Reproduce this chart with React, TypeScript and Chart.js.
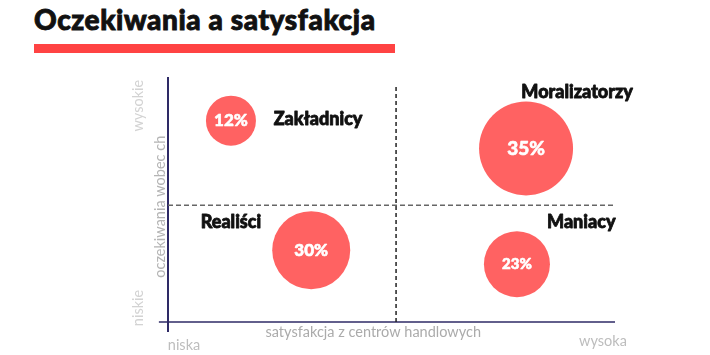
import React, { useEffect, useRef } from "react";
import { Chart, registerables } from "chart.js";

Chart.register(...registerables);

// ---- data ----
const segments = ["Zakładnicy", "Moralizatorzy", "Realiści", "Maniacy"];
const satisfaction = [1.38, 7.85, 3.14, 7.65]; // x (0..9.8)
const expectations = [8.63, 7.44, 3.08, 2.48]; // y (0..10.5)
const shares = [12, 35, 30, 23]; // %
const bubbleSize = [25, 47, 39, 33];
const segLabelX = [3.29, 8.97, 1.38, 9.06];
const segLabelY = [8.68, 9.87, 4.27, 4.27];
const xAxisTitle = "satysfakcja z centrów handlowych";
const yAxisTitle = "oczekiwania wobec ch";
const xTickLabels = ["niska", "wysoka"];
const yTickLabels = ["niskie", "wysokie"];
const titleText = "Oczekiwania a satysfakcja";

const X_MAX = 9.8;
const Y_MAX = 10.5;
const MID = 5;

const textPlugin = {
  id: "textPlugin",
  afterDatasetsDraw(chart: any) {
    const ctx = chart.ctx as CanvasRenderingContext2D;
    const xs = chart.scales.x;
    const ys = chart.scales.y;
    ctx.save();
    ctx.lineJoin = "round";
    // percentages inside bubbles
    const meta = chart.getDatasetMeta(0);
    const pctSizes = [17, 19, 17, 15];
    meta.data.forEach((el: any, i: number) => {
      ctx.fillStyle = "#ffffff";
      ctx.strokeStyle = "#ffffff";
      ctx.lineWidth = 0.6;
      ctx.font = `900 ${pctSizes[i]}px Lato`;
      ctx.textAlign = "center";
      ctx.textBaseline = "middle";
      ctx.fillText(shares[i] + "%", el.x, el.y);
      ctx.strokeText(shares[i] + "%", el.x, el.y);
    });
    // segment names
    ctx.fillStyle = "#111111";
    ctx.strokeStyle = "#111111";
    ctx.lineWidth = 0.8;
    ctx.font = "900 18px Lato";
    segments.forEach((s, i) => {
      ctx.textAlign = "center";
      ctx.textBaseline = "middle";
      const px = xs.getPixelForValue(segLabelX[i]);
      const py = ys.getPixelForValue(segLabelY[i]);
      ctx.fillText(s, px, py);
      ctx.strokeText(s, px, py);
    });
    // axis titles
    const left = xs.getPixelForValue(0);
    const bottom = ys.getPixelForValue(0);
    ctx.font = "14.5px Lato";
    ctx.fillStyle = "#ababab";
    ctx.textAlign = "center";
    ctx.textBaseline = "middle";
    ctx.fillText(xAxisTitle, xs.getPixelForValue(4.5), bottom + 10);
    ctx.fillStyle = "#bdbdbd";
    ctx.fillText(xTickLabels[0], left + 16, bottom + 23);
    ctx.fillText(xTickLabels[1], xs.getPixelForValue(X_MAX) - 12, bottom + 19);
    // rotated y labels
    const rot = (t: string, x: number, y: number, color: string) => {
      ctx.save();
      ctx.translate(x, y);
      ctx.rotate(-Math.PI / 2);
      ctx.fillStyle = color;
      ctx.fillText(t, 0, 0);
      ctx.restore();
    };
    rot(yAxisTitle, left - 8, ys.getPixelForValue(4.94), "#b5b5b5");
    rot(yTickLabels[1], left - 30, ys.getPixelForValue(9.27), "#d3d3d3");
    rot(yTickLabels[0], left - 30, ys.getPixelForValue(0.6), "#d3d3d3");
    ctx.restore();
  },
};

export default function App() {
  const ref = useRef<HTMLCanvasElement>(null);
  useEffect(() => {
    if (!ref.current) return;
    const bubbles = satisfaction.map((x, i) => ({ x, y: expectations[i], r: bubbleSize[i] }));
    const chart = new Chart(ref.current, {
      type: "bubble",
      data: {
        datasets: [
          {
            type: "bubble",
            data: bubbles,
            backgroundColor: "#ff6262",
            borderWidth: 0,
            hoverBorderWidth: 0,
            order: 0,
          } as any,
          {
            type: "line",
            data: [
              { x: MID, y: 0 },
              { x: MID, y: 10.08 },
            ],
            borderColor: "#222222",
            borderWidth: 1.5,
            borderDash: [4, 3],
            pointRadius: 0,
            fill: false,
            order: 2,
          } as any,
          {
            type: "line",
            data: [
              { x: 0, y: MID },
              { x: X_MAX, y: MID },
            ],
            borderColor: "#666666",
            borderWidth: 1.5,
            borderDash: [5, 3],
            pointRadius: 0,
            fill: false,
            order: 2,
          } as any,
          {
            type: "line",
            data: [
              { x: 0, y: -0.43 },
              { x: 0, y: Y_MAX },
            ],
            borderColor: "#2e2a66",
            borderWidth: 2,
            pointRadius: 0,
            fill: false,
            clip: false,
            order: 3,
          } as any,
          {
            type: "line",
            data: [
              { x: -0.2, y: 0 },
              { x: X_MAX, y: 0 },
            ],
            borderColor: "#2e2a66",
            borderWidth: 1.5,
            pointRadius: 0,
            fill: false,
            clip: false,
            order: 3,
          } as any,
        ],
      },
      options: {
        animation: false,
        responsive: false,
        layout: { autoPadding: false, padding: { left: 168, right: 95, top: 77, bottom: 33 } },
        scales: {
          x: { type: "linear", min: 0, max: X_MAX, display: false },
          y: { type: "linear", min: 0, max: Y_MAX, display: false },
        },
        plugins: { legend: { display: false }, tooltip: { enabled: false }, title: { display: false } },
      },
      plugins: [textPlugin],
    });
    return () => chart.destroy();
  }, []);
  return (
    <div style={{ position: "fixed", left: 0, top: 0, width: 710, height: 355, background: "#fff" }}>
      <div
        style={{
          position: "absolute",
          left: 34,
          top: 1,
          fontFamily: "Lato",
          fontWeight: 900,
          fontSize: 28,
          letterSpacing: 0.6,
          color: "#111",
          whiteSpace: "nowrap",
          lineHeight: "36px",
          WebkitTextStroke: "0.9px #111",
        }}
      >
        {titleText}
      </div>
      <div style={{ position: "absolute", left: 34, top: 44, width: 361, height: 9, background: "#ff4343" }} />
      <canvas ref={ref} width={710} height={355} style={{ position: "absolute", left: 0, top: 0 }} />
    </div>
  );
}
